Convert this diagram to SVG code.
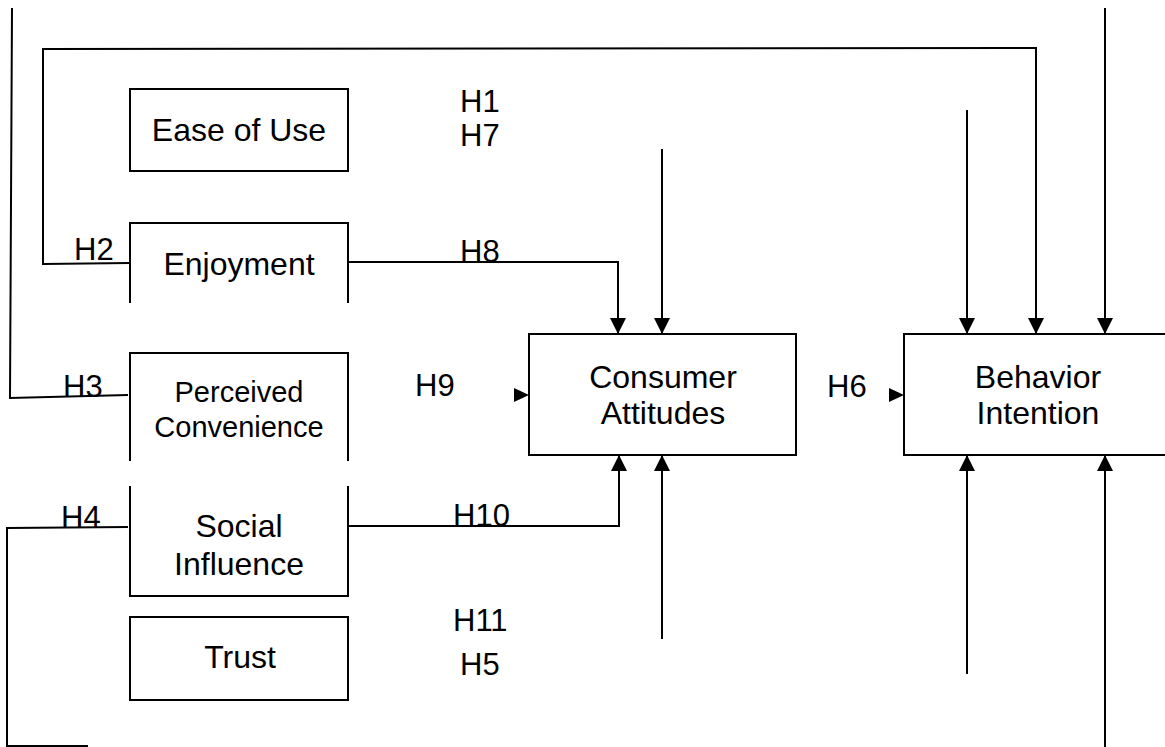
<svg xmlns="http://www.w3.org/2000/svg" width="1165" height="747" viewBox="0 0 1165 747">
<style>
  .box { fill: none; stroke: #000; stroke-width: 2; }
  .ln { fill: none; stroke: #000; stroke-width: 2; }
  .t { font-family: "Liberation Sans", Arial, sans-serif; font-size: 31px; fill: #000; }
  .n { font-size: 32px; text-anchor: middle; }
  .s { font-size: 29px; text-anchor: middle; }
  .tri { fill: #000; }
</style>
<defs>
  <marker id="arr" markerUnits="userSpaceOnUse" markerWidth="16" markerHeight="16" viewBox="0 0 16 16" refX="16" refY="8" orient="auto">
    <path d="M0,0 L16,8 L0,16 Z" fill="#000"/>
  </marker>
</defs>
<rect width="1165" height="747" fill="#fff"/>

<g id="connectors">
  <path class="ln" d="M348,262 H618 V334" marker-end="url(#arr)"/>
  <path class="ln" d="M662,149 V334" marker-end="url(#arr)"/>
  <path class="ln" d="M348,526 H619 V455" marker-end="url(#arr)"/>
  <path class="ln" d="M662,639 V455" marker-end="url(#arr)"/>
  <path class="ln" d="M967,110 V334" marker-end="url(#arr)"/>
  <path class="ln" d="M130,263 L43,264 L43,49 L1036,48 L1036,334" marker-end="url(#arr)"/>
  <path class="ln" d="M1105,8 V334" marker-end="url(#arr)"/>
  <path class="ln" d="M128,395 L10,398 L12,8"/>
  <path class="ln" d="M128,527 L7,528 L7,746 L88,746"/>
  <path class="ln" d="M967,674 V455" marker-end="url(#arr)"/>
  <path class="ln" d="M1105,747 V455" marker-end="url(#arr)"/>
  <path class="tri" d="M514,388 L529,395 L514,402 Z"/>
  <path class="tri" d="M889,388 L904,395 L889,402 Z"/>
</g>

<g id="labels">
  <text class="t" x="460" y="112">H1</text>
  <text class="t" x="460" y="146">H7</text>
  <text class="t" x="74" y="260">H2</text>
  <text class="t" x="460" y="262">H8</text>
  <text class="t" x="63" y="397">H3</text>
  <text class="t" x="415" y="396">H9</text>
  <text class="t" x="827" y="397">H6</text>
  <text class="t" x="61" y="528">H4</text>
  <text class="t" x="453" y="526">H10</text>
  <text class="t" x="453" y="631">H11</text>
  <text class="t" x="460" y="675">H5</text>
</g>

<g id="ease-of-use">
  <rect class="box" x="130" y="89" width="218" height="82"/>
  <text class="t n" x="239" y="141">Ease of Use</text>
</g>
<g id="enjoyment">
  <path class="box" d="M130,303 V223 H348 V303"/>
  <text class="t n" x="239" y="275">Enjoyment</text>
</g>
<g id="perceived-convenience">
  <path class="box" d="M130,461 V353 H348 V461"/>
  <text class="t s" x="239" y="402">Perceived</text>
  <text class="t s" x="239" y="437">Convenience</text>
</g>
<g id="social-influence">
  <path class="box" d="M130,486 V596 H348 V486"/>
  <text class="t n" x="239" y="537">Social</text>
  <text class="t n" x="239" y="575">Influence</text>
</g>
<g id="trust">
  <rect class="box" x="130" y="617" width="218" height="83"/>
  <text class="t n" x="240" y="668">Trust</text>
</g>
<g id="consumer-attitudes">
  <rect class="box" x="529" y="334" width="267" height="121"/>
  <text class="t n" x="663" y="388">Consumer</text>
  <text class="t n" x="663" y="424">Attitudes</text>
</g>
<g id="behavior-intention">
  <rect class="box" x="904" y="334" width="300" height="121"/>
  <text class="t n" x="1038" y="388">Behavior</text>
  <text class="t n" x="1038" y="424">Intention</text>
</g>
</svg>
